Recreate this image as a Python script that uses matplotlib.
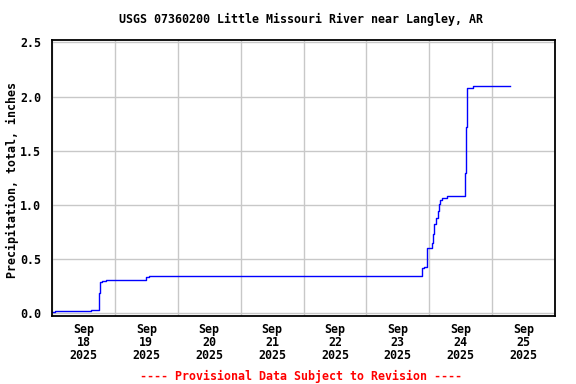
import numpy as np
import matplotlib
matplotlib.use("Agg")
import matplotlib.pyplot as plt

# Hours after 2025-09-18 00:00 and cumulative precipitation (inches)
HOURS = [0.0, 1.3, 14.7, 18.0, 18.25, 19.0, 20.7, 35.9, 36.9, 141.3, 141.9,
         143.1, 145.0, 145.5, 145.9, 146.6, 147.2, 147.7, 148.1, 148.8, 150.9,
         157.75, 158.1, 158.5, 160.7, 175.0]
PRECIP = [0.01, 0.015, 0.03, 0.185, 0.28, 0.29, 0.30, 0.327, 0.34, 0.41, 0.42,
          0.60, 0.647, 0.73, 0.82, 0.88, 0.94, 1.01, 1.04, 1.063, 1.076,
          1.29, 1.72, 2.083, 2.095, 2.095]
DAYS = ["2025-09-18", "2025-09-19", "2025-09-20", "2025-09-21",
        "2025-09-22", "2025-09-23", "2025-09-24", "2025-09-25"]
YTICKS = [0.0, 0.5, 1.0, 1.5, 2.0, 2.5]

FONT = "DejaVu Sans Mono"
FS = 8.35

start = np.datetime64("2025-09-18T00:00")
times = start + (np.array(HOURS) * 60).astype("timedelta64[m]")
times = times.astype("datetime64[s]").astype(object)

fig = plt.figure(figsize=(5.76, 3.84), dpi=100)
ax = fig.add_axes([52 / 576, 1 - 316 / 384, 503 / 576, 276 / 384])

ax.plot(times, PRECIP, drawstyle="steps-post", color="#0000ff", lw=1.0)

day_dt = [np.datetime64(d) for d in DAYS]
edges = [d.astype("datetime64[s]").astype(object) for d in day_dt] + \
    [(day_dt[-1] + np.timedelta64(1, "D")).astype("datetime64[s]").astype(object)]
noons = [(d + np.timedelta64(12, "h")).astype("datetime64[s]").astype(object) for d in day_dt]

ax.set_xlim(edges[0], edges[-1])
ax.set_xticks(edges)
ax.set_xticklabels([])
ax.set_xticks(noons, minor=True)
ax.set_xticklabels([f"Sep\n{d[-2:]}\n{d[:4]}" for d in DAYS], minor=True,
                   fontfamily=FONT, fontweight="bold", fontsize=FS, linespacing=1.0)
ax.tick_params(axis="x", which="both", length=0, pad=5)

ax.set_ylim(-0.03, 2.523)
ax.set_yticks(YTICKS)
ax.set_yticklabels([f"{v:.1f}" for v in YTICKS], fontfamily=FONT,
                   fontweight="bold", fontsize=FS)
ax.tick_params(axis="y", length=0, pad=8)

ax.grid(True, which="major", color="#c8c8c8", lw=1.0)
ax.set_axisbelow(True)
for s in ax.spines.values():
    s.set_linewidth(1.3)
    s.set_color("black")

fig.text(12 / 576, 1 - 180 / 384, "Precipitation, total, inches", rotation=90,
         ha="center", va="center", fontfamily=FONT, fontweight="bold", fontsize=FS)

fig.text(301 / 576, 1 - 19 / 384, "USGS 07360200 Little Missouri River near Langley, AR",
         ha="center", va="center", fontfamily=FONT, fontweight="bold", fontsize=FS)
fig.text(301 / 576, 1 - 376 / 384, "---- Provisional Data Subject to Revision ----",
         ha="center", va="center", fontfamily=FONT, fontweight="bold",
         fontsize=FS, color="red")

fig.savefig("out.png", dpi=100, facecolor="white")
